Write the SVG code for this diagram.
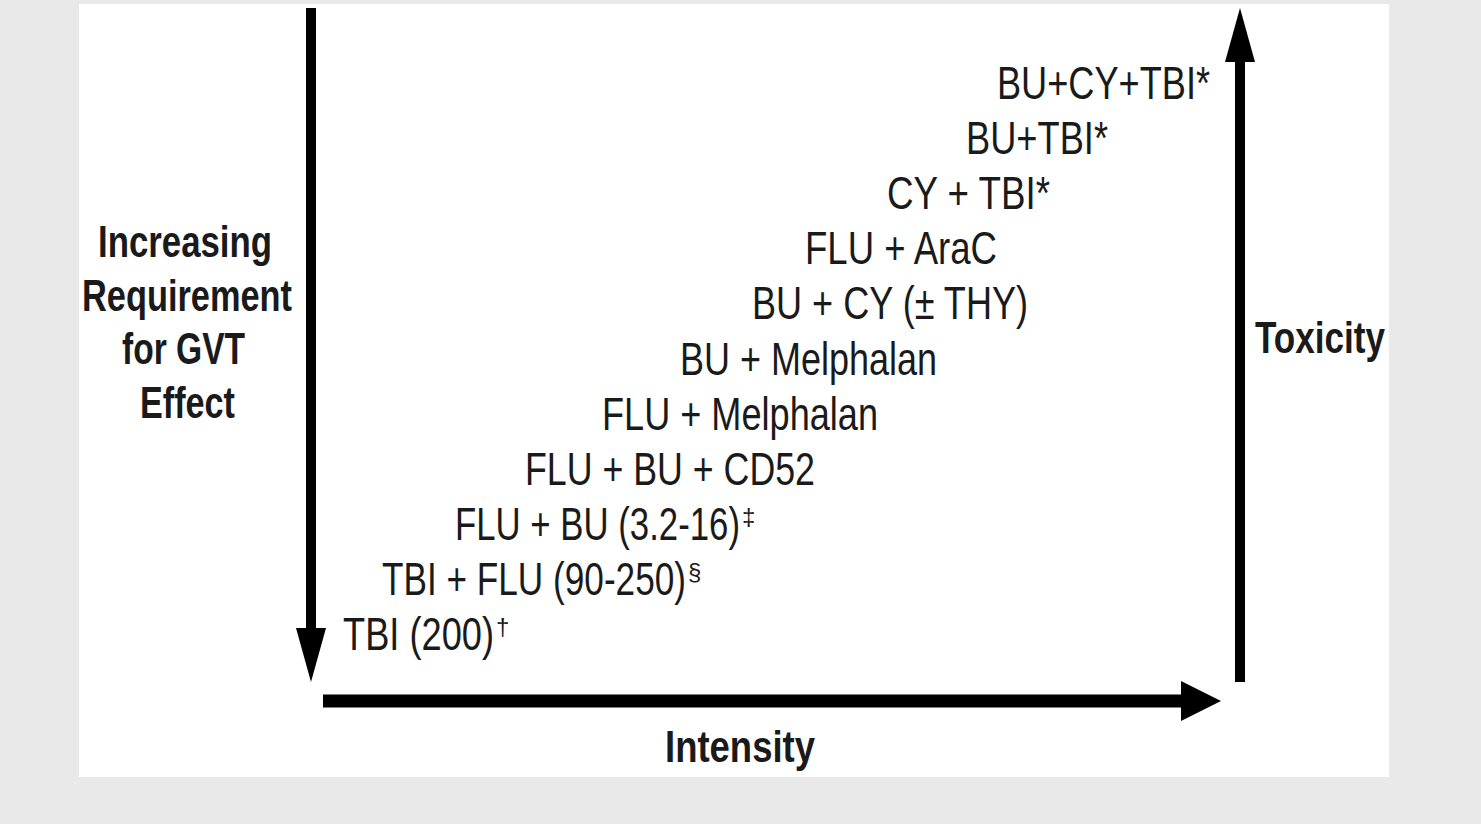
<svg xmlns="http://www.w3.org/2000/svg" width="1481" height="824" viewBox="0 0 1481 824">
  <style>
    .t { font-family: "Liberation Sans", Arial, sans-serif; font-size: 46px; fill: #1a1a1a; }
    .b { font-family: "Liberation Sans", Arial, sans-serif; font-size: 44px; font-weight: bold; fill: #1a1a1a; }
    .sup { font-family: "Liberation Sans", Arial, sans-serif; font-size: 24px; fill: #1a1a1a; }
    .ax { stroke: #000; fill: none; }
  </style>
  <defs>
    <marker id="headV" markerUnits="userSpaceOnUse" viewBox="0 -16 54 32" refX="0" refY="0" markerWidth="54" markerHeight="32" orient="auto">
      <path d="M0,-15 L54,0 L0,15 Z" fill="#000"/>
    </marker>
    <marker id="headH" markerUnits="userSpaceOnUse" viewBox="0 -21 41 42" refX="0" refY="0" markerWidth="41" markerHeight="42" orient="auto">
      <path d="M0,-20 L40,0 L0,20 Z" fill="#000"/>
    </marker>
  </defs>
  <rect x="0" y="0" width="1481" height="824" fill="#e9e9e9"/>
  <rect x="79" y="4" width="1310" height="773" fill="#ffffff"/>

  <g id="connectors">
    <line class="ax" x1="311" y1="8" x2="311" y2="628" stroke-width="10" marker-end="url(#headV)"/>
    <line class="ax" x1="1240" y1="682" x2="1240" y2="62" stroke-width="10" marker-end="url(#headV)"/>
    <line class="ax" x1="323" y1="701" x2="1181" y2="701" stroke-width="13" marker-end="url(#headH)"/>
  </g>

  <g id="label-gvt">
    <text class="b" x="98" y="257" textLength="174" lengthAdjust="spacingAndGlyphs">Increasing</text>
    <text class="b" x="82" y="311" textLength="210" lengthAdjust="spacingAndGlyphs">Requirement</text>
    <text class="b" x="122" y="364" textLength="123" lengthAdjust="spacingAndGlyphs">for GVT</text>
    <text class="b" x="140" y="418" textLength="95" lengthAdjust="spacingAndGlyphs">Effect</text>
  </g>
  <g id="label-toxicity">
    <text class="b" x="1255" y="353" textLength="130" lengthAdjust="spacingAndGlyphs">Toxicity</text>
  </g>
  <g id="label-intensity">
    <text class="b" x="665" y="762" textLength="150" lengthAdjust="spacingAndGlyphs">Intensity</text>
  </g>

  <g id="r1"><text class="t" x="997" y="99" textLength="213" lengthAdjust="spacingAndGlyphs">BU+CY+TBI*</text></g>
  <g id="r2"><text class="t" x="966" y="154" textLength="142" lengthAdjust="spacingAndGlyphs">BU+TBI*</text></g>
  <g id="r3"><text class="t" x="887" y="209" textLength="163" lengthAdjust="spacingAndGlyphs">CY + TBI*</text></g>
  <g id="r4"><text class="t" x="805" y="264" textLength="192" lengthAdjust="spacingAndGlyphs">FLU + AraC</text></g>
  <g id="r5"><text class="t" x="752" y="319" textLength="276" lengthAdjust="spacingAndGlyphs">BU + CY (± THY)</text></g>
  <g id="r6"><text class="t" x="680" y="375" textLength="257" lengthAdjust="spacingAndGlyphs">BU + Melphalan</text></g>
  <g id="r7"><text class="t" x="602" y="430" textLength="276" lengthAdjust="spacingAndGlyphs">FLU + Melphalan</text></g>
  <g id="r8"><text class="t" x="525" y="485" textLength="290" lengthAdjust="spacingAndGlyphs">FLU + BU + CD52</text></g>
  <g id="r9">
    <text class="t" transform="translate(455,540) scale(0.756,1)">FLU + BU (3.2-16)</text>
    <text class="sup" x="742" y="525">‡</text>
  </g>
  <g id="r10">
    <text class="t" transform="translate(382,595) scale(0.765,1)">TBI + FLU (90-250)</text>
    <text class="sup" x="688" y="580">§</text>
  </g>
  <g id="r11">
    <text class="t" transform="translate(343,650) scale(0.788,1)">TBI (200)</text>
    <text class="sup" x="496" y="635">†</text>
  </g>
</svg>
